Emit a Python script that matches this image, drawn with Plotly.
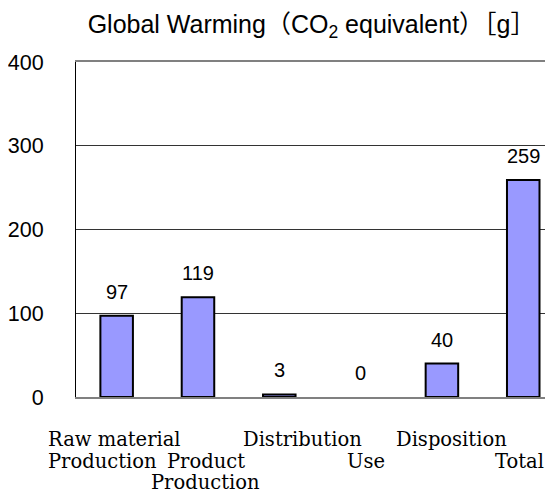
import plotly.graph_objects as go

categories = ["Raw material<br>Production", "Product<br>Production", "Distribution", "Use", "Disposition", "Total"]
values = [97, 119, 3, 0, 40, 259]
value_labels = ["97", "119", "3", "0", "40", "259"]
y_ticks = [0, 100, 200, 300, 400]

# label layout per category: (first row index, x shift px, anchor)
label_layout = [
    (0, -71, "left"),
    (1, 8, "center"),
    (0, 23, "center"),
    (1, 5, "center"),
    (0, 10, "center"),
    (1, -4, "center"),
]
row_shifts = [-42.5, -64.5, -85.5]

idx = list(range(len(categories)))

fig = go.Figure()
fig.add_trace(go.Bar(
    x=idx, y=values, width=0.4,
    marker=dict(color="#9999FF",
                line=dict(color="black", width=[2 if v > 0 else 0 for v in values])),
    hoverinfo="skip",
))

annotations = []
for i, (v, lab) in enumerate(zip(values, value_labels)):
    annotations.append(dict(
        x=i, y=v, xref="x", yref="y", text=lab, showarrow=False,
        yanchor="middle", yshift=24,
        font=dict(family="Liberation Sans", size=20, color="black"),
    ))
for i, (cat, (row0, xs, anc)) in enumerate(zip(categories, label_layout)):
    for k, line in enumerate(cat.split("<br>")):
        annotations.append(dict(
            x=i, y=0, xref="x", yref="paper", text=line, showarrow=False,
            yanchor="middle", xanchor=anc, yshift=row_shifts[row0 + k], xshift=xs,
            font=dict(family="DejaVu Serif", size=19.5, color="black"),
        ))

fig.update_layout(
    width=545, height=484,
    margin=dict(l=64, r=0, t=54, b=95, pad=0),
    paper_bgcolor="white", plot_bgcolor="white",
    showlegend=False,
    title=dict(
        text="Global Warming（CO<sub>2</sub> equivalent）［g］",
        x=0.557, xref="container", xanchor="center",
        y=0.967, yref="container", yanchor="middle",
        font=dict(family="Liberation Sans, Noto Sans CJK JP", size=25, color="black"),
    ),
    xaxis=dict(
        range=[-0.5, 5.366], showticklabels=False, showgrid=False, zeroline=False,
        showline=True, linecolor="#808080", linewidth=2, mirror=True,
        ticks="", fixedrange=True,
    ),
    yaxis=dict(
        range=[0, 400], tickvals=y_ticks, ticktext=[str(t) for t in y_ticks],
        showgrid=True, gridcolor="#333333", gridwidth=1, zeroline=False,
        showline=True, linecolor="black", linewidth=1,
        ticks="", ticklabelstandoff=27,
        tickfont=dict(family="Liberation Sans", size=21.5, color="black"),
        fixedrange=True,
    ),
    annotations=annotations,
)

fig.write_html("out.html")
